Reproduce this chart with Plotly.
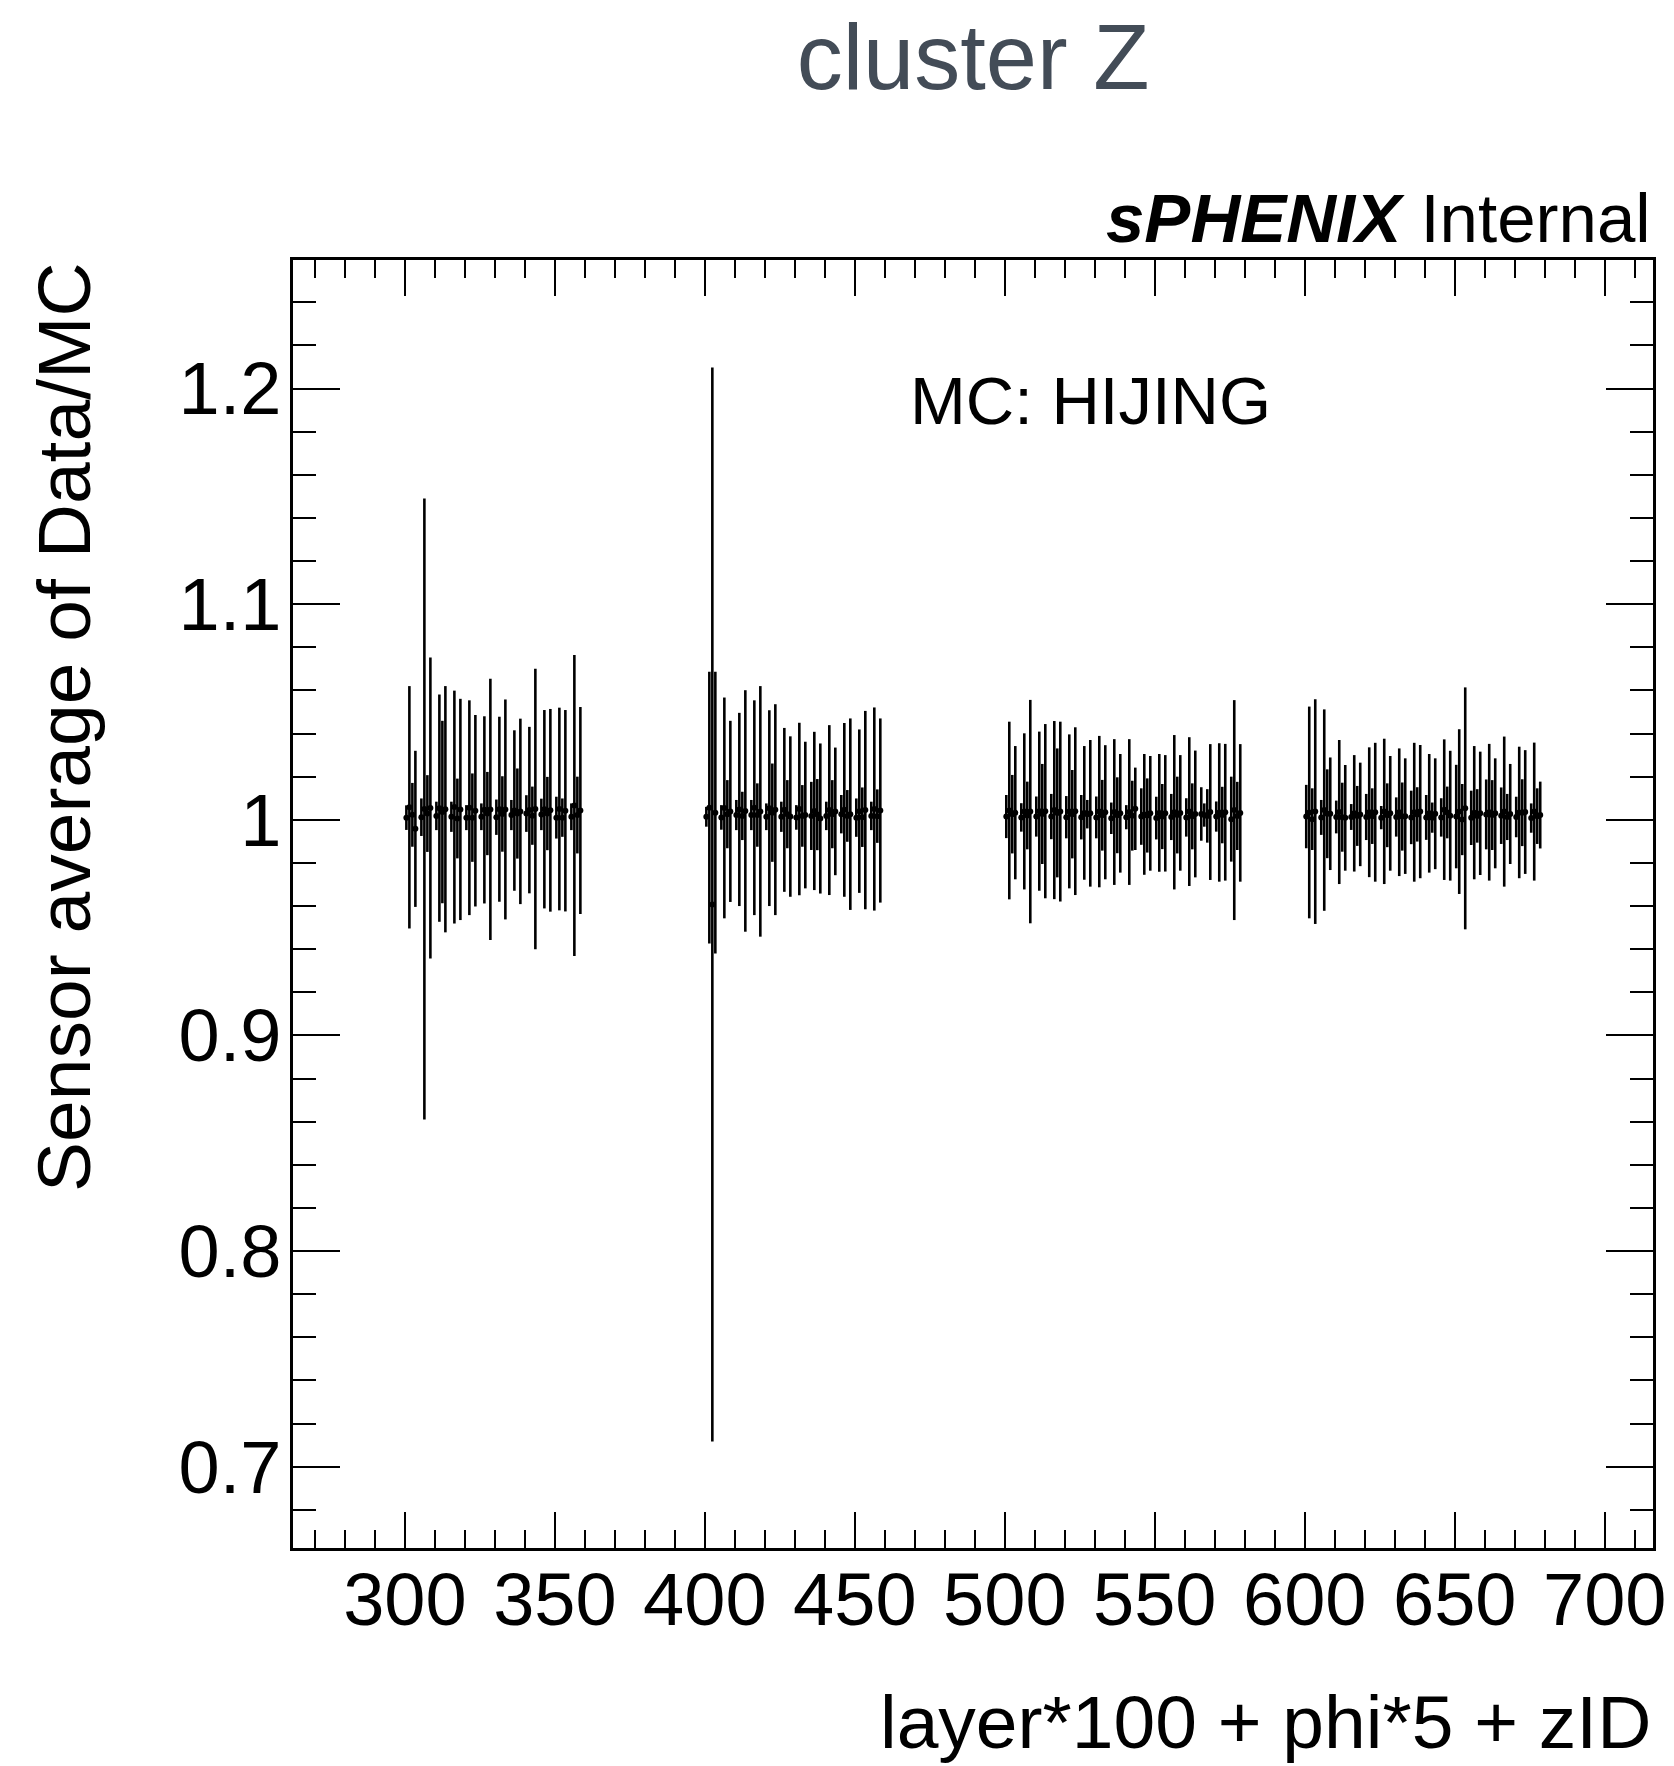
import plotly.graph_objects as go

# ---------------- data ----------------
# x = layer*100 + phi*5 + zID ; points drawn at bin centres (+0.5)
layers = [3, 4, 5, 6]
n_phi = {3: 12, 4: 12, 5: 16, 6: 16}
z_ids = [0, 1, 2, 3]

# values / errors listed phi by phi, zID 0..3 inside each phi
layer3_val = [1.0010, 1.0058, 1.0023, 0.9958,  1.0012, 1.0050, 1.0029, 1.0055,
              1.0018, 1.0054, 1.0036, 1.0049,  1.0014, 1.0059, 1.0006, 1.0048,
              1.0010, 1.0056, 1.0010, 1.0042,  1.0014, 1.0046, 1.0029, 1.0048,
              1.0012, 1.0049, 1.0027, 1.0048,  1.0022, 1.0043, 1.0029, 1.0039,
              1.0029, 1.0045, 1.0019, 1.0050,  1.0025, 1.0049, 1.0029, 1.0044,
              1.0010, 1.0050, 1.0010, 1.0042,  1.0014, 1.0066, 1.0022, 1.0043]
layer3_err = [0.0057, 0.0562, 0.0148, 0.0362,  0.0087, 0.1440, 0.0178, 0.0698,
              0.0066, 0.0527, 0.0423, 0.0571,  0.0070, 0.0540, 0.0185, 0.0513,
              0.0058, 0.0498, 0.0205, 0.0444,  0.0062, 0.0434, 0.0193, 0.0606,
              0.0082, 0.0429, 0.0175, 0.0510,  0.0070, 0.0372, 0.0209, 0.0430,
              0.0085, 0.0386, 0.0135, 0.0650,  0.0073, 0.0460, 0.0170, 0.0470,
              0.0097, 0.0470, 0.0089, 0.0467,  0.0062, 0.0698, 0.0178, 0.0480]

layer4_val = [1.0014, 1.0056, 0.9607, 1.0033,  1.0011, 1.0055, 1.0026, 1.0039,
              1.0022, 1.0048, 1.0018, 1.0041,  1.0022, 1.0056, 1.0022, 1.0039,
              1.0014, 1.0054, 1.0033, 1.0047,  1.0014, 1.0046, 1.0026, 1.0015,
              1.0011, 1.0050, 1.0018, 1.0022,  1.0018, 1.0041, 1.0024, 1.0006,
              1.0018, 1.0045, 1.0026, 1.0039,  1.0026, 1.0046, 1.0018, 1.0026,
              1.0010, 1.0040, 1.0012, 1.0045,  1.0018, 1.0050, 1.0017, 1.0043]
layer4_err = [0.0046, 0.0630, 0.2490, 0.0653,  0.0057, 0.0512, 0.0158, 0.0420,
              0.0070, 0.0448, 0.0112, 0.0560,  0.0070, 0.0498, 0.0147, 0.0581,
              0.0062, 0.0454, 0.0228, 0.0489,  0.0070, 0.0380, 0.0158, 0.0372,
              0.0057, 0.0400, 0.0143, 0.0340,  0.0158, 0.0367, 0.0165, 0.0348,
              0.0066, 0.0394, 0.0158, 0.0296,  0.0089, 0.0403, 0.0120, 0.0444,
              0.0089, 0.0379, 0.0138, 0.0460,  0.0066, 0.0471, 0.0124, 0.0427]

layer5_val = [1.0015, 1.0043, 1.0026, 1.0033,  1.0011, 1.0039, 1.0020, 1.0038,
              1.0015, 1.0040, 1.0027, 1.0040,  1.0015, 1.0045, 1.0032, 1.0038,
              1.0012, 1.0039, 1.0026, 1.0040,  1.0012, 1.0032, 1.0026, 1.0030,
              1.0011, 1.0038, 1.0021, 1.0035,  1.0007, 1.0036, 1.0021, 1.0030,
              1.0012, 1.0036, 1.0019, 1.0051,  1.0015, 1.0025, 1.0020, 1.0030,
              1.0008, 1.0032, 1.0015, 1.0030,  1.0013, 1.0035, 1.0022, 1.0032,
              1.0011, 1.0038, 1.0016, 1.0027,  1.0027, 1.0022, 1.0018, 1.0036,
              1.0015, 1.0034, 1.0022, 1.0035,  1.0003, 1.0045, 1.0018, 1.0032]
layer5_err = [0.0100, 0.0412, 0.0182, 0.0309,  0.0066, 0.0362, 0.0157, 0.0518,
              0.0093, 0.0369, 0.0232, 0.0404,  0.0105, 0.0413, 0.0299, 0.0417,
              0.0098, 0.0357, 0.0205, 0.0389,  0.0103, 0.0310, 0.0066, 0.0340,
              0.0097, 0.0351, 0.0164, 0.0311,  0.0073, 0.0338, 0.0176, 0.0275,
              0.0056, 0.0338, 0.0162, 0.0191,  0.0131, 0.0280, 0.0172, 0.0266,
              0.0099, 0.0273, 0.0151, 0.0270,  0.0107, 0.0358, 0.0178, 0.0268,
              0.0089, 0.0345, 0.0153, 0.0294,  0.0124, 0.0054, 0.0124, 0.0315,
              0.0070, 0.0321, 0.0131, 0.0317,  0.0197, 0.0510, 0.0158, 0.0319]

layer6_val = [1.0015, 1.0034, 1.0003, 1.0038,  1.0011, 1.0045, 1.0028, 1.0028,
              1.0013, 1.0036, 1.0012, 1.0009,  1.0013, 1.0030, 1.0018, 1.0025,
              1.0013, 1.0035, 1.0017, 1.0035,  1.0010, 1.0039, 1.0021, 1.0030,
              1.0013, 1.0035, 1.0015, 1.0017,  1.0011, 1.0035, 1.0025, 1.0038,
              1.0011, 1.0030, 1.0010, 1.0028,  1.0011, 1.0047, 1.0034, 1.0019,
              1.0015, 1.0038, 1.0001, 1.0053,  1.0009, 1.0033, 1.0018, 1.0030,
              1.0025, 1.0035, 1.0022, 1.0030,  1.0019, 1.0038, 1.0013, 1.0027,
              1.0013, 1.0034, 1.0033, 1.0036,  1.0008, 1.0038, 1.0017, 1.0022]
layer6_err = [0.0147, 0.0491, 0.0143, 0.0521,  0.0081, 0.0467, 0.0206, 0.0261,
              0.0076, 0.0334, 0.0160, 0.0245,  0.0060, 0.0270, 0.0139, 0.0240,
              0.0107, 0.0301, 0.0129, 0.0322,  0.0054, 0.0337, 0.0148, 0.0266,
              0.0091, 0.0296, 0.0158, 0.0268,  0.0124, 0.0322, 0.0126, 0.0309,
              0.0104, 0.0275, 0.0070, 0.0257,  0.0089, 0.0326, 0.0120, 0.0301,
              0.0240, 0.0382, 0.0165, 0.0561,  0.0126, 0.0309, 0.0124, 0.0286,
              0.0162, 0.0317, 0.0162, 0.0255,  0.0131, 0.0348, 0.0107, 0.0232,
              0.0094, 0.0305, 0.0155, 0.0287,  0.0068, 0.0320, 0.0129, 0.0155]

x_ticks = [300, 350, 400, 450, 500, 550, 600, 650, 700]
y_ticks = [0.7, 0.8, 0.9, 1.0, 1.1, 1.2]
y_ticktext = ["0.7", "0.8", "0.9", "1", "1.1", "1.2"]

values = {3: layer3_val, 4: layer4_val, 5: layer5_val, 6: layer6_val}
errors = {3: layer3_err, 4: layer4_err, 5: layer5_err, 6: layer6_err}

# ---------------- build ----------------
xs, ys, es = [], [], []
for L in layers:
    i = 0
    for phi in range(n_phi[L]):
        for z in z_ids:
            xs.append(L * 100 + phi * 5 + z + 0.5)
            ys.append(values[L][i])
            es.append(errors[L][i])
            i += 1

FONT = "Liberation Sans, Arial, Helvetica, sans-serif"

fig = go.Figure()
fig.add_trace(go.Scatter(
    x=xs, y=ys, mode="markers",
    marker=dict(color="black", size=6, symbol="circle"),
    error_y=dict(type="data", array=es, visible=True, color="black",
                 thickness=2.6, width=0),
    error_x=dict(type="constant", value=0.5, visible=True, color="black",
                 thickness=2.6, width=0),
    showlegend=False, hoverinfo="x+y",
))

W, H = 1674, 1766
L_, R_, T_, B_ = 293, 21, 260, 218

axis_common = dict(
    showline=True, linecolor="black", linewidth=2.5, mirror="ticks",
    ticks="inside", tickcolor="black", tickwidth=2,
    showgrid=False, zeroline=False,
    tickfont=dict(family=FONT, size=74, color="black"),
)

fig.update_layout(
    width=W, height=H,
    margin=dict(l=L_, r=R_, t=T_, b=B_, autoexpand=False),
    paper_bgcolor="white", plot_bgcolor="white",
    title=dict(text="cluster Z", x=0.5, xref="paper", xanchor="center",
               y=1 - 57 / H, yref="container", yanchor="middle",
               font=dict(family=FONT, size=92, color="#434c57")),
    xaxis=dict(range=[262.7, 716.1], tickmode="array", tickvals=x_ticks,
               ticklen=36, ticklabelstandoff=-15,
               minor=dict(ticks="inside", dtick=10, tick0=300, ticklen=18,
                          tickwidth=2, tickcolor="black", showgrid=False),
               **axis_common),
    yaxis=dict(range=[0.6623, 1.2596], tickmode="array", tickvals=y_ticks,
               ticktext=y_ticktext, ticklen=47, ticklabelstandoff=-6,
               minor=dict(ticks="inside", dtick=0.02, tick0=0.7, ticklen=23,
                          tickwidth=2, tickcolor="black", showgrid=False),
               **axis_common),
)

pw = W - L_ - R_
ph = H - T_ - B_

def px_x(p):
    return (p - L_) / pw

def px_y(p):
    return (H - B_ - p) / ph

annotations = [
    dict(text="Sensor average of Data/MC", textangle=-90,
         x=px_x(64), y=1.0, xanchor="center", yanchor="top",
         font=dict(family=FONT, size=75, color="black")),
    dict(text="layer*100 + phi*5 + zID",
         x=1.0, y=px_y(1722), xanchor="right", yanchor="middle",
         font=dict(family=FONT, size=75, color="black")),
    dict(text="<b><i>sPHENIX</i></b> Internal",
         x=1.0, y=px_y(218), xanchor="right", yanchor="middle",
         font=dict(family=FONT, size=69, color="black")),
    dict(text="MC: HIJING",
         x=px_x(1090), y=px_y(400), xanchor="center", yanchor="middle",
         font=dict(family=FONT, size=67, color="black")),
]
for a in annotations:
    a.update(xref="paper", yref="paper", showarrow=False)
fig.update_layout(annotations=annotations)

fig.write_html("out.html")
